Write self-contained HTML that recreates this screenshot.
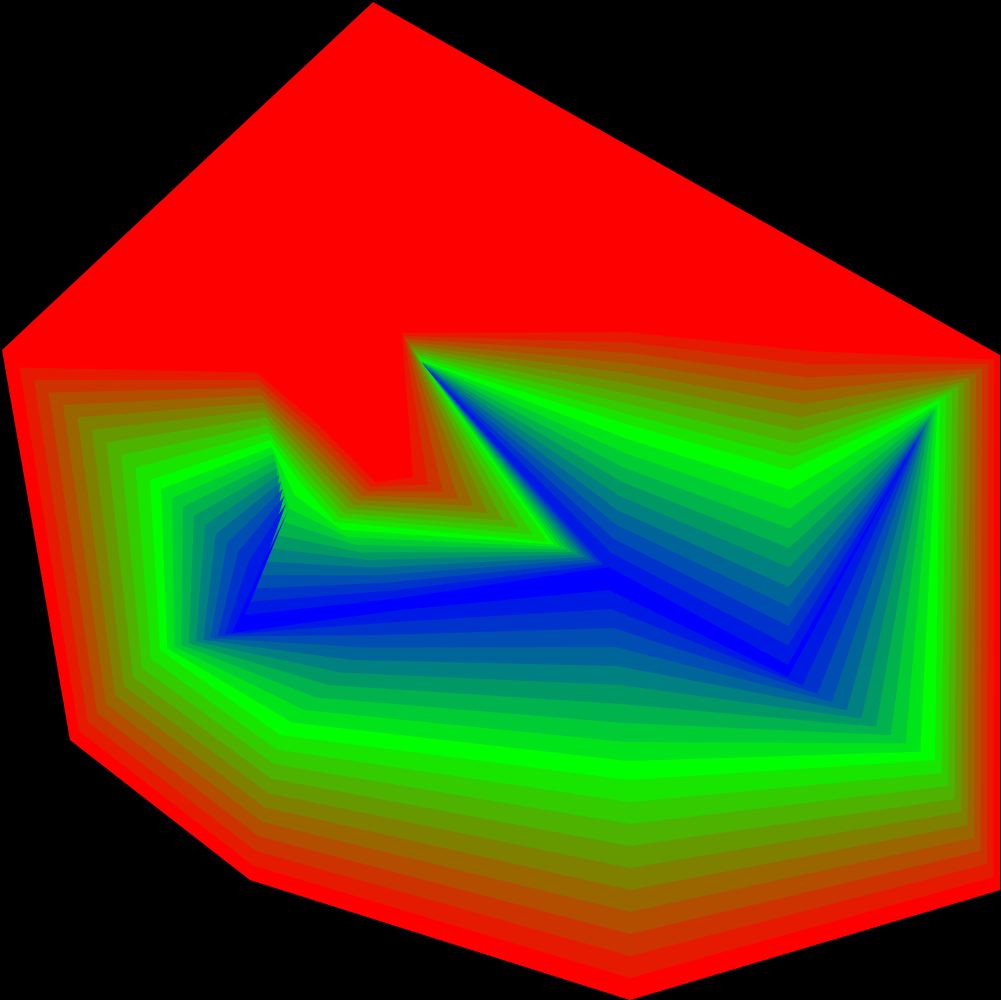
<!DOCTYPE html>
<html><head><meta charset="utf-8"><style>
html,body{margin:0;padding:0;background:#000;width:1001px;height:1000px;overflow:hidden}
svg{display:block}
</style></head><body>
<svg id="plot" width="1001" height="1000" viewBox="0 0 1001 1000">
<rect x="0" y="0" width="1001" height="1000" fill="#000"/>
<g id="bands"></g>
</svg>
<script>
const hull = [[373,2],[1000,355],[1000,890],[630,1000],[250,880],[70,740],[2,350]];
const outerLevel = [[5,355],[255,365],[320,418],[380,478],[398,470],[400,330],[630,322],[815,338],[1000,355],[1000,890],[630,1000],[250,880],[70,740]];
const greenLevel = [[150,480],[270,440],[300,482],[335,522],[548,542],[420,360],[630,425],[790,470],[940,400],[935,760],[630,780],[280,735],[160,650]];
const coreLevel = [[260,570],[288,510],[245,615],[400,598],[609,567],[425,367],[609,567],[788,665],[915,443],[788,677],[609,590],[400,610],[232,633]];
const bandCount = 20;

const NS = 'http://www.w3.org/2000/svg';
const g = document.getElementById('bands');
function pts(a){return a.map(p=>p[0]+','+p[1]).join(' ');}
function lerp(a,b,t){return a.map((p,i)=>[p[0]+(b[i][0]-p[0])*t, p[1]+(b[i][1]-p[1])*t]);}
function color(t){
  let r,gg,b;
  if(t<=0.5){const u=t*2;r=255*(1-u);gg=255*u;b=0;}
  else{const u=(t-0.5)*2;r=0;gg=255*(1-u);b=255*u;}
  return 'rgb('+Math.round(r)+','+Math.round(gg)+','+Math.round(b)+')';
}
const h = document.createElementNS(NS,'polygon');
h.setAttribute('points', pts(hull));
h.setAttribute('fill', color(0));


g.appendChild(h);
const half = bandCount/2;
for(let i=0;i<=bandCount;i++){
  const t=i/bandCount;
  const poly = i<=half ? lerp(outerLevel, greenLevel, i/half) : lerp(greenLevel, coreLevel, (i-half)/half);
  const el = document.createElementNS(NS,'polygon');
  el.setAttribute('points', pts(poly));
  el.setAttribute('fill', color(t));
  
  
  g.appendChild(el);
}
</script>
</body></html>
